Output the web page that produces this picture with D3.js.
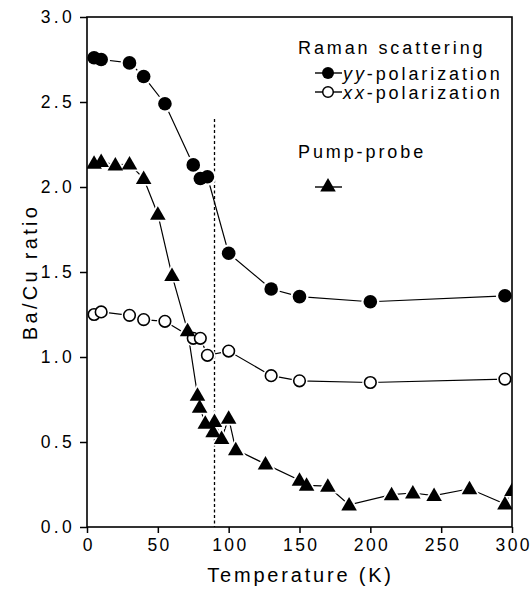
<!DOCTYPE html>
<html>
<head>
<meta charset="utf-8">
<script src="https://cdn.jsdelivr.net/npm/d3@7"></script>
<style>
  body { margin: 0; background: #fff; }
  text { font-family: "Liberation Sans", Arial, sans-serif; fill: #000; }
</style>
</head>
<body>
<script>
// Ba/Cu ratio vs temperature
const width = 531, height = 596
const margin = {top: 17, right: 19, bottom: 69, left: 87}

// Raman yy-polarization (filled circles)
const yyTemp = [5, 10, 30, 40, 55, 75, 80, 85, 100, 130, 150, 200, 295]
const yyRatio = [2.76, 2.75, 2.73, 2.65, 2.49, 2.13, 2.05, 2.06, 1.61, 1.40, 1.355, 1.325, 1.36]

// Raman xx-polarization (open circles)
const xxTemp = [5, 10, 30, 40, 55, 75, 80, 85, 100, 130, 150, 200, 295]
const xxRatio = [1.25, 1.265, 1.245, 1.22, 1.21, 1.11, 1.11, 1.01, 1.035, 0.89, 0.86, 0.85, 0.87]

// Pump-probe (triangles)
const ppTemp = [5, 10, 20, 30, 40, 50, 60, 71, 78, 79.5, 83.5, 89, 90, 95, 100, 105, 126, 150, 155, 170, 185, 215, 230, 245, 270, 295, 300]
const ppRatio = [2.14, 2.15, 2.13, 2.135, 2.05, 1.84, 1.48, 1.155, 0.775, 0.705, 0.61, 0.56, 0.62, 0.52, 0.64, 0.455, 0.37, 0.275, 0.245, 0.24, 0.13, 0.19, 0.20, 0.185, 0.225, 0.135, 0.215]

const xTicks = [0, 50, 100, 150, 200, 250, 300]
const yTicks = [0, 0.5, 1.0, 1.5, 2.0, 2.5, 3.0]
const tc = 90

const x = d3.scaleLinear()
    .domain([0, 300])
    .range([margin.left, width - margin.right])

const y = d3.scaleLinear()
    .domain([0, 3])
    .range([height - margin.bottom, margin.top])

const svg = d3.select("body").append("svg")
    .attr("width", width)
    .attr("height", height)

svg.append("defs").append("clipPath")
    .attr("id", "plotclip")
  .append("rect")
    .attr("x", margin.left)
    .attr("y", margin.top)
    .attr("width", width - margin.left - margin.right)
    .attr("height", height - margin.top - margin.bottom)

// dashed Tc line
svg.append("line")
    .attr("x1", x(tc)).attr("x2", x(tc))
    .attr("y1", y(2.4)).attr("y2", y(0))
    .attr("stroke", "#000")
    .attr("stroke-width", 1.3)
    .attr("stroke-dasharray", "3,2.5")

const plot = svg.append("g").attr("clip-path", "url(#plotclip)")

const line = d3.line()
    .x(d => x(d[0]))
    .y(d => y(d[1]))

function zip(a, b) { return a.map((v, i) => [v, b[i]]) }

const yyData = zip(yyTemp, yyRatio)
const xxData = zip(xxTemp, xxRatio)
const ppData = zip(ppTemp, ppRatio)

;[yyData, xxData, ppData].forEach(function(data){
  plot.append("path")
      .datum(data)
      .attr("d", line)
      .attr("fill", "none")
      .attr("stroke", "#000")
      .attr("stroke-width", 1.2)
})

const tri = d3.symbol().type(d3.symbolTriangle).size(105)
const triHalo = d3.symbol().type(d3.symbolTriangle).size(200)

// white halos so lines stop short of markers
plot.selectAll(".halo-yy").data(yyData).enter().append("circle")
    .attr("cx", d => x(d[0])).attr("cy", d => y(d[1])).attr("r", 9)
    .attr("fill", "#fff")
plot.selectAll(".halo-xx").data(xxData).enter().append("circle")
    .attr("cx", d => x(d[0])).attr("cy", d => y(d[1])).attr("r", 8)
    .attr("fill", "#fff")
plot.selectAll(".halo-pp").data(ppData).enter().append("path")
    .attr("d", triHalo)
    .attr("transform", d => "translate(" + x(d[0]) + "," + (y(d[1]) + 1) + ")")
    .attr("fill", "#fff")

plot.selectAll(".yy").data(yyData).enter().append("circle")
    .attr("class", "yy")
    .attr("cx", d => x(d[0])).attr("cy", d => y(d[1])).attr("r", 6.8)
    .attr("fill", "#000")
plot.selectAll(".xx").data(xxData).enter().append("circle")
    .attr("class", "xx")
    .attr("cx", d => x(d[0])).attr("cy", d => y(d[1])).attr("r", 5.8)
    .attr("fill", "#fff")
    .attr("stroke", "#000")
    .attr("stroke-width", 1.6)
plot.selectAll(".pp").data(ppData).enter().append("path")
    .attr("class", "pp")
    .attr("d", tri)
    .attr("transform", d => "translate(" + x(d[0]) + "," + (y(d[1]) + 1) + ")")
    .attr("fill", "#000")

// axes
const xAxis = svg.append("g")
    .attr("transform", "translate(0," + y(0) + ")")
    .call(d3.axisBottom(x).tickValues(xTicks).tickSize(6).tickPadding(6))
const yAxis = svg.append("g")
    .attr("transform", "translate(" + x(0) + ",0)")
    .call(d3.axisLeft(y).tickValues(yTicks).tickSize(7).tickPadding(5).tickFormat(d3.format(".1f")))

;[xAxis, yAxis].forEach(function(a){
  a.select(".domain").remove()
  a.selectAll(".tick line").attr("stroke-width", 1.5)
  a.selectAll(".tick text")
      .style("font-family", '"Liberation Sans", Arial, sans-serif')
      .style("font-size", "17.5px")
      .style("letter-spacing", "3.3px")
})
xAxis.selectAll(".tick text")
    .style("letter-spacing", "2.4px")
    .attr("dx", "1.2px")

// frame
svg.append("rect")
    .attr("x", margin.left)
    .attr("y", margin.top)
    .attr("width", width - margin.left - margin.right)
    .attr("height", height - margin.top - margin.bottom)
    .attr("fill", "none")
    .attr("stroke", "#000")
    .attr("stroke-width", 1.6)

svg.append("text")
    .attr("text-anchor", "middle")
    .attr("x", (margin.left + width - margin.right) / 2 + 1)
    .attr("y", 582)
    .style("font-size", "20px")
    .style("letter-spacing", "2.8px")
    .text("Temperature (K)")

svg.append("text")
    .attr("text-anchor", "middle")
    .attr("transform", "translate(37," + y(1.5) + ") rotate(-90)")
    .style("font-size", "20px")
    .style("letter-spacing", "3.3px")
    .text("Ba/Cu ratio")

// legend
const legend = svg.append("g")
    .style("font-size", "18px")
    .style("letter-spacing", "2.9px")

legend.append("text").attr("x", 298).attr("y", 54).text("Raman scattering")

const legRows = [
  {y: 73, kind: "yy", label: "yy"},
  {y: 92, kind: "xx", label: "xx"}
]
legRows.forEach(function(r){
  legend.append("line")
      .attr("x1", 315).attr("x2", 342)
      .attr("y1", r.y).attr("y2", r.y)
      .attr("stroke", "#000").attr("stroke-width", 1.4)
  const c = legend.append("circle")
      .attr("cx", 328).attr("cy", r.y)
  if (r.kind === "yy") {
    c.attr("r", 6).attr("fill", "#000")
  } else {
    c.attr("r", 5.3).attr("fill", "#fff").attr("stroke", "#000").attr("stroke-width", 1.5)
  }
  const t = legend.append("text").attr("x", 343).attr("y", r.y + 6.5)
  t.append("tspan").style("font-style", "italic").text(r.label)
  t.append("tspan").text("-polarization")
})

legend.append("text").attr("x", 298).attr("y", 158).text("Pump-probe")
legend.append("line")
    .attr("x1", 315).attr("x2", 342)
    .attr("y1", 187).attr("y2", 187)
    .attr("stroke", "#000").attr("stroke-width", 1.4)
legend.append("path")
    .attr("d", tri)
    .attr("transform", "translate(328,187)")
    .attr("fill", "#000")
</script>
</body>
</html>
